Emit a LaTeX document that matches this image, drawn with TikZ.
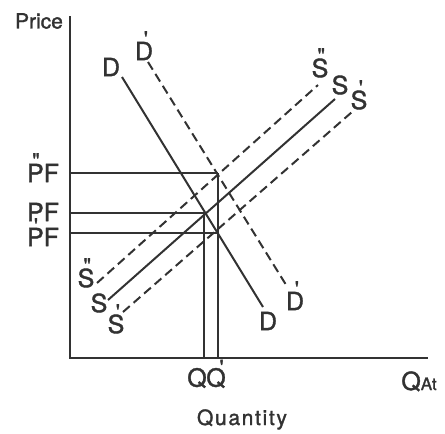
\documentclass[tikz,border=0pt]{standalone}
\usepackage{fontspec}
\setmainfont[FakeBold=1.5]{TeX Gyre Heros}
\newcommand{\mk}[4][0.1em]{\setbox0\hbox{#2}\leavevmode\rlap{\smash{\hbox to \wd0{\hss\kern#1\raisebox{#4}{\fontsize{21}{21}\selectfont #3}\hss}}}#2}
\definecolor{ink}{RGB}{50,50,50}
\begin{document}
\begin{tikzpicture}[x=1pt,y=-1pt,
  ln/.style={line width=2pt,draw=ink},
  dsh/.style={ln,dash pattern=on 9pt off 5pt},
  lab/.style={text=ink,inner sep=0pt,font=\fontsize{25}{25}\selectfont},
  axlab/.style={text=ink,inner sep=0pt,font=\fontsize{21}{21}\selectfont}]
\useasboundingbox (0,0) rectangle (445,434);
% axes
\coordinate (Ytop) at (70,16);
\coordinate (O) at (70,358);
\coordinate (Xend) at (428,358);
\draw[ln] (Ytop) -- (O) -- (Xend);
% horizontal price lines
\coordinate (p2) at (70,173);
\coordinate (p0) at (70,213);
\coordinate (p1) at (70,233);
\coordinate (e2) at (218,173);
\coordinate (e0) at (204,213);
\coordinate (e1) at (218,233);
\draw[ln] (p2) -- (e2);
\draw[ln] (p0) -- (e0);
\draw[ln] (p1) -- (e1);
% vertical quantity lines
\coordinate (q0) at (204,358);
\coordinate (q1) at (218,358);
\draw[ln] (e0) -- (q0);
\draw[ln] (e2) -- (q1);
% demand curves
\coordinate (Da) at (122,77);
\coordinate (Db) at (263,307);
\coordinate (D1a) at (148,62);
\coordinate (D1b) at (288,288);
\draw[ln] (Da) -- (Db);
\draw[dsh] (D1a) -- (D1b);
% supply curves
\coordinate (Sa) at (108,300);
\coordinate (Sb) at (335,99);
\coordinate (S2a) at (97,283);
\coordinate (S2b) at (318,85);
\coordinate (S1a) at (123,312);
\coordinate (S1b) at (352,112);
\draw[ln] (Sa) -- (Sb);
\draw[dsh] (S2a) -- (S2b);
\draw[dsh] (S1a) -- (S1b);
% labels
\node[axlab] (price) at (39,21) {Price};
\node[lab] (lD) at (111,67) {D};
\node[lab] (lD1) at (144,51) {\mk[0.15em]{D}{\textquotesingle}{14pt}};
\node[lab] (lS2) at (320,68) {\mk[0.1em]{S}{\textquotedbl}{14pt}};
\node[lab] (lS) at (340,85) {S};
\node[lab] (lS1) at (359,100) {\mk[0.15em]{S}{\textquotesingle}{14pt}};
\node[lab] (lDb) at (268,321) {D};
\node[lab] (lD1b) at (295,301) {\mk[0.15em]{D}{\textquotesingle}{14pt}};
\node[lab] (lS2b) at (86,278) {\mk[0.1em]{S}{\textquotedbl}{14pt}};
\node[lab] (lSb) at (99,303) {S};
\node[lab] (lS1b) at (116,324) {\mk[0.15em]{S}{\textquotesingle}{14pt}};
\node[lab] (lP2) at (43,173) {\mk[0.05em]{P}{\textquotedbl}{14pt}F};
\node[lab] (lP0) at (43,212) {PF};
\node[lab] (lP1) at (43,237) {\mk[0.05em]{P}{\textquotesingle}{13pt}F};
\node[lab] (lQ) at (197,378) {Q};
\node[lab] (lQ1) at (216,378) {\mk[0.45em]{Q}{\textquotesingle}{12pt}};
\node[lab,anchor=base] (lQAt) at (419,390) {Q\fontsize{17}{17}\selectfont At};
\node[axlab,anchor=base] (quant) at (242,425) {\addfontfeature{LetterSpace=8}Quantity};
\end{tikzpicture}
\end{document}
